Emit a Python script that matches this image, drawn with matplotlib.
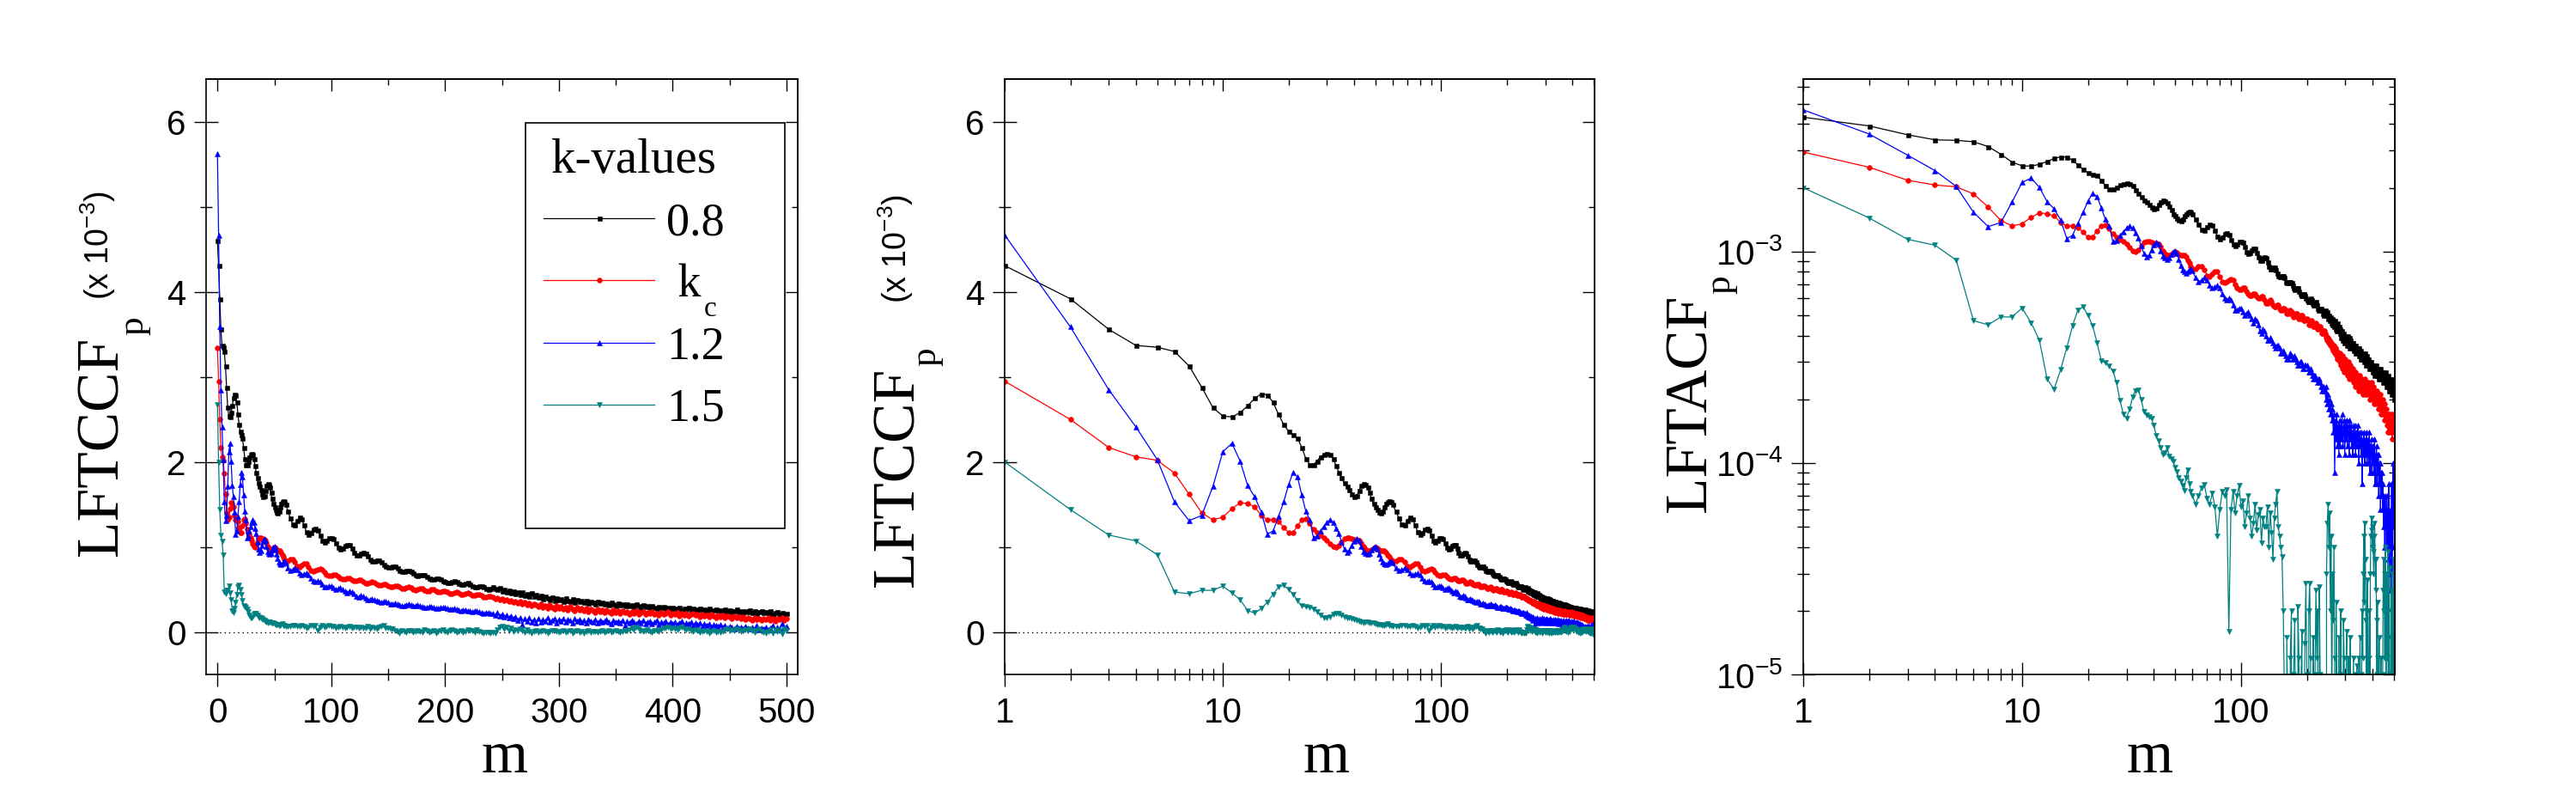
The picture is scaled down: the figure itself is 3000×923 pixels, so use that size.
import matplotlib
matplotlib.use("Agg")
import matplotlib.pyplot as plt
import numpy as np
from matplotlib.patches import Rectangle
from matplotlib.ticker import FixedLocator, MultipleLocator, LogLocator, NullFormatter, FuncFormatter

SERIF = "Liberation Serif"
SANS = "Liberation Sans"
plt.rcParams["font.family"] = SANS
plt.rcParams["mathtext.default"] = "regular"

# lag m: every step up to 60, every second step after that
m = np.array(list(range(0, 61)) + list(range(62, 501, 2)))

# LFTCCF_p values in units of 1e-3
k08 = [
    4.60, 4.31, 3.92, 3.56, 3.37, 3.35, 3.30, 3.13, 2.88, 2.64,
    2.54, 2.53, 2.58, 2.66, 2.75, 2.80, 2.79, 2.70, 2.56, 2.44,
    2.36, 2.32, 2.28, 2.17, 2.04, 1.97, 1.97, 2.01, 2.06, 2.09,
    2.10, 2.09, 2.04, 1.96, 1.88, 1.81, 1.75, 1.71, 1.67, 1.62,
    1.59, 1.60, 1.66, 1.72, 1.74, 1.73, 1.70, 1.64, 1.57, 1.51,
    1.47, 1.44, 1.41, 1.40, 1.42, 1.47, 1.51, 1.53, 1.54, 1.53,
    1.50,
    1.42, 1.34, 1.27, 1.26, 1.31, 1.35, 1.33, 1.26, 1.18, 1.15,
    1.17, 1.21, 1.22, 1.20, 1.14, 1.08, 1.06, 1.08, 1.11, 1.11,
    1.10, 1.05, 1.00, 0.98, 0.99, 1.02, 1.03, 1.03, 0.99, 0.94,
    0.91, 0.91, 0.93, 0.94, 0.93, 0.89, 0.85, 0.83, 0.83, 0.84,
    0.84, 0.82, 0.79, 0.77, 0.76, 0.76, 0.77, 0.77, 0.75, 0.72,
    0.71, 0.71, 0.72, 0.72, 0.71, 0.69, 0.67, 0.66, 0.67, 0.67,
    0.67, 0.65, 0.63, 0.62, 0.62, 0.63, 0.63, 0.62, 0.60, 0.59,
    0.58, 0.58, 0.59, 0.60, 0.59, 0.57, 0.56, 0.56, 0.57, 0.58,
    0.56, 0.54, 0.53, 0.53, 0.54, 0.54, 0.53, 0.51, 0.50, 0.51,
    0.53, 0.51, 0.50, 0.52, 0.48, 0.50, 0.47, 0.49, 0.46, 0.48,
    0.45, 0.47, 0.44, 0.47, 0.43, 0.45, 0.42, 0.46, 0.42, 0.44,
    0.41, 0.43, 0.39, 0.42, 0.40, 0.38, 0.41, 0.37, 0.40, 0.38,
    0.39, 0.36, 0.40, 0.37, 0.36, 0.39, 0.35, 0.38, 0.36, 0.37,
    0.35, 0.37, 0.34, 0.36, 0.35, 0.33, 0.36, 0.34, 0.35, 0.33,
    0.34, 0.32, 0.35, 0.33, 0.31, 0.34, 0.32, 0.33, 0.31, 0.33,
    0.31, 0.32, 0.30, 0.33, 0.31, 0.29, 0.32, 0.30, 0.31, 0.29,
    0.31, 0.29, 0.28, 0.30, 0.29, 0.30, 0.28, 0.29, 0.27, 0.29,
    0.28, 0.27, 0.29, 0.26, 0.28, 0.27, 0.29, 0.26, 0.28, 0.27,
    0.26, 0.28, 0.25, 0.27, 0.26, 0.28, 0.25, 0.26, 0.27, 0.25,
    0.26, 0.24, 0.27, 0.25, 0.26, 0.24, 0.25, 0.27, 0.24, 0.25,
    0.23, 0.25, 0.24, 0.26, 0.23, 0.25, 0.22, 0.24, 0.25, 0.23,
    0.24, 0.22, 0.25, 0.21, 0.23, 0.24, 0.21, 0.23, 0.20, 0.22,
]

kc = [
    3.34, 2.95, 2.50, 2.17, 2.06, 2.02, 1.87, 1.62, 1.40, 1.32,
    1.35, 1.45, 1.52, 1.51, 1.47, 1.37, 1.32, 1.32, 1.30, 1.23,
    1.17, 1.17, 1.25, 1.32, 1.33, 1.28, 1.21, 1.17, 1.14, 1.11,
    1.08, 1.04, 1.01, 1.00, 1.02, 1.06, 1.10, 1.11, 1.11, 1.10,
    1.09, 1.09, 1.08, 1.05, 1.01, 0.98, 0.96, 0.96, 0.97, 0.99,
    1.00, 0.99, 0.97, 0.96, 0.96, 0.96, 0.94, 0.91, 0.88, 0.85,
    0.83,
    0.83, 0.85, 0.85, 0.82, 0.77, 0.76, 0.78, 0.80, 0.80, 0.76,
    0.72, 0.71, 0.72, 0.73, 0.74, 0.73, 0.70, 0.67, 0.66, 0.66,
    0.67, 0.67, 0.65, 0.63, 0.62, 0.62, 0.63, 0.63, 0.61, 0.60,
    0.60, 0.61, 0.61, 0.59, 0.57, 0.57, 0.58, 0.59, 0.58, 0.56,
    0.55, 0.55, 0.56, 0.56, 0.54, 0.53, 0.53, 0.54, 0.54, 0.53,
    0.51, 0.51, 0.52, 0.53, 0.52, 0.50, 0.49, 0.50, 0.51, 0.51,
    0.49, 0.48, 0.48, 0.50, 0.50, 0.48, 0.47, 0.47, 0.48, 0.48,
    0.47, 0.45, 0.45, 0.46, 0.47, 0.46, 0.44, 0.44, 0.45, 0.46,
    0.45, 0.43, 0.43, 0.44, 0.44, 0.43, 0.41, 0.41, 0.42, 0.42,
    0.41, 0.39, 0.40, 0.38, 0.39, 0.37, 0.38, 0.36, 0.37, 0.35,
    0.36, 0.34, 0.36, 0.33, 0.35, 0.32, 0.34, 0.31, 0.33, 0.32,
    0.30, 0.33, 0.29, 0.31, 0.28, 0.32, 0.29, 0.27, 0.31, 0.28,
    0.30, 0.27, 0.29, 0.26, 0.30, 0.27, 0.25, 0.29, 0.26, 0.28,
    0.25, 0.28, 0.24, 0.27, 0.25, 0.23, 0.27, 0.24, 0.26, 0.23,
    0.26, 0.24, 0.22, 0.26, 0.23, 0.25, 0.22, 0.25, 0.23, 0.24,
    0.21, 0.24, 0.22, 0.25, 0.21, 0.23, 0.24, 0.21, 0.23, 0.22,
    0.24, 0.21, 0.22, 0.20, 0.23, 0.21, 0.22, 0.24, 0.20, 0.22,
    0.21, 0.23, 0.19, 0.22, 0.20, 0.22, 0.19, 0.21, 0.22, 0.20,
    0.21, 0.18, 0.21, 0.19, 0.20, 0.18, 0.21, 0.19, 0.17, 0.20,
    0.18, 0.20, 0.17, 0.19, 0.18, 0.16, 0.19, 0.17, 0.18, 0.16,
    0.18, 0.15, 0.17, 0.16, 0.14, 0.17, 0.15, 0.16, 0.14, 0.16,
    0.15, 0.17, 0.14, 0.16, 0.13, 0.16, 0.15, 0.17, 0.14, 0.16,
]

k12 = [
    5.63, 4.67, 3.59, 2.85, 2.41, 2.03, 1.53, 1.31, 1.37, 1.71,
    2.12, 2.22, 2.01, 1.72, 1.59, 1.41, 1.15, 1.19, 1.36, 1.53,
    1.73, 1.88, 1.82, 1.61, 1.42, 1.32, 1.11, 1.13, 1.19, 1.24,
    1.29, 1.32, 1.29, 1.22, 1.16, 1.06, 0.98, 0.94, 0.96, 1.02,
    1.07, 1.10, 1.08, 1.01, 0.95, 0.93, 0.92, 0.93, 0.97, 1.00,
    1.01, 0.98, 0.92, 0.86, 0.82, 0.80, 0.79, 0.80, 0.82, 0.83,
    0.81,
    0.75, 0.72, 0.73, 0.75, 0.73, 0.69, 0.67, 0.68, 0.69, 0.67,
    0.63, 0.60, 0.59, 0.60, 0.59, 0.56, 0.53, 0.53, 0.54, 0.54,
    0.52, 0.50, 0.51, 0.52, 0.50, 0.48, 0.46, 0.48, 0.47, 0.45,
    0.42, 0.41, 0.43, 0.42, 0.40, 0.38, 0.38, 0.39, 0.38, 0.37,
    0.36, 0.35, 0.36, 0.36, 0.35, 0.33, 0.33, 0.34, 0.33, 0.32,
    0.31, 0.31, 0.32, 0.33, 0.32, 0.31, 0.31, 0.32, 0.31, 0.30,
    0.29, 0.29, 0.30, 0.30, 0.29, 0.28, 0.28, 0.29, 0.29, 0.29,
    0.28, 0.27, 0.27, 0.28, 0.27, 0.26, 0.25, 0.26, 0.26, 0.25,
    0.25, 0.24, 0.25, 0.25, 0.24, 0.23, 0.22, 0.23, 0.23, 0.22,
    0.22, 0.20, 0.23, 0.19, 0.21, 0.18, 0.20, 0.17, 0.19, 0.16,
    0.18, 0.14, 0.17, 0.09, 0.16, 0.13, 0.17, 0.12, 0.15, 0.11,
    0.16, 0.12, 0.15, 0.13, 0.17, 0.12, 0.14, 0.16, 0.11, 0.15,
    0.13, 0.16, 0.12, 0.15, 0.14, 0.11, 0.16, 0.13, 0.15, 0.12,
    0.14, 0.11, 0.15, 0.13, 0.12, 0.15, 0.11, 0.14, 0.12, 0.13,
    0.15, 0.12, 0.10, 0.14, 0.12, 0.13, 0.11, 0.14, 0.08, 0.13,
    0.11, 0.14, 0.12, 0.10, 0.13, 0.11, 0.14, 0.10, 0.12, 0.13,
    0.10, 0.12, 0.14, 0.09, 0.12, 0.11, 0.13, 0.09, 0.12, 0.10,
    0.12, 0.09, 0.11, 0.13, 0.08, 0.11, 0.10, 0.12, 0.08, 0.11,
    0.09, 0.11, 0.07, 0.10, 0.08, 0.10, 0.06, 0.09, 0.08, 0.07,
    0.09, 0.06, 0.08, 0.05, 0.07, 0.06, 0.04, 0.07, 0.05, 0.06,
    0.04, 0.07, 0.05, 0.035, 0.06, 0.04, 0.08, 0.03, 0.05, 0.04,
    0.06, 0.025, 0.05, 0.08, 0.03, 0.06, 0.04, 0.10, 0.05, 0.07,
]

k15 = [
    2.67, 2.00, 1.44, 1.14, 1.07, 0.91, 0.47, 0.45, 0.49, 0.49,
    0.54, 0.46, 0.38, 0.25, 0.223, 0.276, 0.35, 0.445, 0.53, 0.547,
    0.50, 0.445, 0.37, 0.304, 0.298, 0.288, 0.272, 0.24, 0.198, 0.17,
    0.163, 0.18, 0.205, 0.22, 0.222, 0.20, 0.175, 0.168, 0.165, 0.162,
    0.15, 0.135, 0.127, 0.118, 0.11, 0.112, 0.118, 0.108, 0.105, 0.102,
    0.095, 0.091, 0.085, 0.082, 0.078, 0.074, 0.085, 0.093, 0.08, 0.073,
    0.07,
    0.064, 0.07, 0.076, 0.079, 0.068, 0.064, 0.072, 0.062, 0.045, 0.06,
    0.073, 0.07, 0.075, 0.016, 0.06, 0.073, 0.058, 0.07, 0.078, 0.062,
    0.066, 0.05, 0.058, 0.07, 0.055, 0.045, 0.052, 0.064, 0.048, 0.057,
    0.06, 0.042, 0.055, 0.05, 0.05, 0.062, 0.04, 0.058, 0.047, 0.035,
    0.055, 0.064, 0.073, 0.05, 0.045, 0.04, 0.036, 0.02, 0.008, -0.01,
    0.015, 0.005, -0.008, 0.012, 0.02, -0.005, 0.01, 0.018, 0.004, -0.006,
    0.021, 0.012, -0.004, 0.009, 0.016, -0.01, 0.005, 0.014, 0.027, 0.01,
    -0.005, 0.02, 0.027, 0.012, -0.008, 0.004, 0.015, -0.004, 0.01, 0.025,
    0.012, 0.02, -0.005, 0.026, 0.01, -0.006, -0.012, -0.004, -0.008, -0.01,
    -0.006, -0.012, 0.03, 0.052, 0.064, 0.04, 0.058, 0.02, 0.045, 0.006,
    0.03, 0.018, 0.04, 0.012, -0.005, 0.022, 0.008, -0.01, 0.004, 0.015,
    -0.006, 0.01, 0.02, 0.005, -0.012, 0.004, 0.018, 0.012, 0.006, -0.004,
    0.008, 0.016, -0.008, 0.004, 0.012, -0.01, 0.006, 0.015, -0.004, 0.008,
    -0.012, 0.003, 0.012, -0.006, 0.005, 0.01, -0.008, 0.004, 0.011, -0.005,
    0.006, 0.012, -0.003, 0.008, 0.015, 0.004, -0.008, 0.01, 0.02, 0.012,
    0.03, 0.045, 0.022, 0.052, 0.035, 0.018, 0.006, 0.02, 0.028, 0.01,
    -0.005, 0.012, 0.02, 0.008, 0.03, 0.045, 0.048, 0.055, 0.04, 0.05,
    0.038, 0.03, 0.045, 0.052, 0.035, 0.025, 0.035, 0.018, 0.01, 0.022,
    0.012, -0.006, 0.008, 0.015, 0.004, -0.01, 0.005, 0.012, -0.004, 0.006,
    -0.008, 0.01, 0.025, 0.035, 0.02, 0.03, 0.012, 0.04, 0.025, 0.005,
    0.018, 0.03, 0.012, 0.038, 0.02, -0.005, 0.015, 0.032, 0.01, -0.004,
    -0.012, 0.008, 0.025, -0.015, 0.03, 0.004, 0.016, -0.02, 0.035, 0.016,
]

series = [k08, kc, k12, k15]
names = ["0.8", " k", "1.2", "1.5"]
colors = ["black", "red", "blue", "#008080"]
markers = ["s", "o", "^", "v"]
msizes = [3.6, 4.2, 4.8, 4.8]


def draw(ax, x, scale, start):
    lines = []
    for ys, c, mk, ms in zip(series, colors, markers, msizes):
        y = np.array(ys) * scale
        ln, = ax.plot(x[start:], y[start:], color=c, marker=mk, ms=ms, lw=0.9,
                      mec=c, mew=0.4)
        lines.append(ln)
    return lines


def style(ax, xmaj, xmin, ymaj, ymin, xfmt=None, yfmt=None):
    for s in ax.spines.values():
        s.set_linewidth(1.2)
    ax.xaxis.set_major_locator(xmaj())
    ax.xaxis.set_minor_locator(xmin())
    ax.yaxis.set_major_locator(ymaj())
    ax.yaxis.set_minor_locator(ymin())
    if xfmt:
        ax.xaxis.set_major_formatter(xfmt)
    if yfmt:
        ax.yaxis.set_major_formatter(yfmt)
    ax.xaxis.set_minor_formatter(NullFormatter())
    ax.yaxis.set_minor_formatter(NullFormatter())
    ax.tick_params(which="both", direction="inout", top=False, right=False, width=1.0)
    ax.tick_params(which="major", length=20)
    ax.tick_params(which="minor", length=10)
    ax.tick_params(axis="x", which="major", pad=9, labelsize=29)
    ax.tick_params(axis="y", which="major", pad=7, labelsize=29)

    # inner ticks on top and right
    top = ax.secondary_xaxis("top")
    right = ax.secondary_yaxis("right")
    top.xaxis.set_major_locator(xmaj())
    top.xaxis.set_minor_locator(xmin())
    right.yaxis.set_major_locator(ymaj())
    right.yaxis.set_minor_locator(ymin())
    for sec, axis in ((top, top.xaxis), (right, right.yaxis)):
        axis.set_major_formatter(NullFormatter())
        axis.set_minor_formatter(NullFormatter())
        sec.tick_params(which="both", direction="in", width=1.0)
        sec.tick_params(which="major", length=10)
        sec.tick_params(which="minor", length=5)
        for s in sec.spines.values():
            s.set_linewidth(1.2)


def ylabel(ax, main, sub, x_main, y_main, x_sub, y_sub, unit=None):
    ax.text(x_main, y_main, main, transform=ax.transAxes, rotation=90,
            rotation_mode="anchor", ha="left", va="baseline", fontsize=50, family=SERIF)
    ax.text(x_sub, y_sub, sub, transform=ax.transAxes, rotation=90,
            rotation_mode="anchor", ha="left", va="baseline", fontsize=31, family=SERIF)
    if unit:
        ax.text(unit[0], unit[1], r"(x 10$^{-3}$)", transform=ax.transAxes, rotation=90,
                rotation_mode="anchor", ha="left", va="baseline", fontsize=27, family=SANS)


def xlabel(ax, x):
    ax.set_xlabel("m", fontsize=50, family=SERIF)
    ax.xaxis.label.set_va("baseline")
    ax.xaxis.set_label_coords(x, -0.165)


fig = plt.figure(figsize=(30, 9.23), dpi=100)
ax1 = fig.add_axes([0.080, 0.1495, 0.2297, 0.7503])
ax2 = fig.add_axes([0.390, 0.1495, 0.2290, 0.7503])
ax3 = fig.add_axes([0.700, 0.1495, 0.2297, 0.7503])

log_major = lambda: FixedLocator([1, 10, 100])
log_minor = lambda: LogLocator(base=10, subs=np.arange(2, 10), numticks=20)
plain = FuncFormatter(lambda v, p: "%g" % v)
powfmt = FuncFormatter(lambda v, p: r"$10^{%d}$" % round(np.log10(v)))

# panel 1: linear m
lines = draw(ax1, m, 1.0, 0)
ax1.axhline(0, color="black", lw=0.9, ls=(0, (1.2, 3)), zorder=1)
ax1.set_xlim(-10, 510)
ax1.set_ylim(-0.5, 6.5)
style(ax1, lambda: MultipleLocator(100), lambda: MultipleLocator(50),
      lambda: MultipleLocator(2), lambda: MultipleLocator(1))
ylabel(ax1, "LFTCCF", "p", -0.1495, 0.199, -0.1074, 0.570, unit=(-0.1645, 0.630))
xlabel(ax1, 0.504)

ax1.add_patch(Rectangle((0.5395, 0.2455), 0.4392, 0.682, transform=ax1.transAxes,
                        fill=False, lw=1.2, ec="black", zorder=5))
leg = ax1.legend(lines, names, title="k-values", loc="upper left",
                 bbox_to_anchor=(0.5708, 0.901), frameon=False, borderpad=0,
                 borderaxespad=0, handlelength=2.37, handletextpad=0.26,
                 labelspacing=0.40, prop={"family": SERIF, "size": 39},
                 title_fontproperties={"family": SERIF, "size": 41})
leg.set_zorder(5)
# subscript c of k_c, set well below the baseline as in the original
ax1.annotate("c", xy=(1, 0), xycoords=leg.get_texts()[1], xytext=(2.5, -7.7),
             textcoords="offset points", ha="left", va="baseline",
             fontsize=24, family=SERIF, zorder=6)

# panel 2: log m
draw(ax2, m, 1.0, 1)
ax2.axhline(0, color="black", lw=0.9, ls=(0, (1.2, 3)), zorder=1)
ax2.set_xscale("log")
ax2.set_xlim(1, 505)
ax2.set_ylim(-0.5, 6.5)
style(ax2, log_major, log_minor, lambda: MultipleLocator(2), lambda: MultipleLocator(1),
      xfmt=plain)
ylabel(ax2, "LFTCCF", "p", -0.1547, 0.147, -0.118, 0.518, unit=(-0.166, 0.624))
xlabel(ax2, 0.545)

# panel 3: log-log
draw(ax3, m, 1e-3, 1)
ax3.set_xscale("log")
ax3.set_yscale("log")
ax3.set_xlim(1, 505)
ax3.set_ylim(1e-5, 6.5e-3)
style(ax3, log_major, log_minor, lambda: FixedLocator([1e-5, 1e-4, 1e-3]), log_minor,
      xfmt=plain, yfmt=powfmt)
ylabel(ax3, "LFTACF", "p", -0.1644, 0.273, -0.125, 0.640)
xlabel(ax3, 0.586)

fig.savefig("out.png", dpi=100)
